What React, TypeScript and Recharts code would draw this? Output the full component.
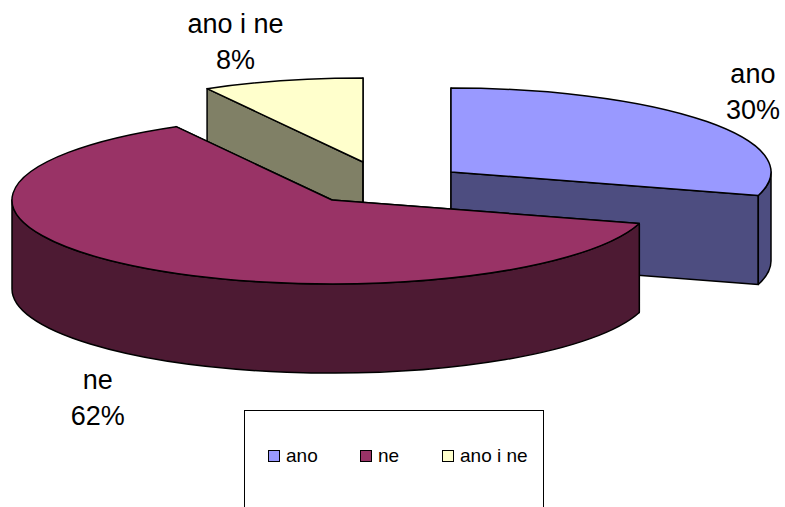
import { PieChart, Pie, Cell, Legend } from "recharts";

const categories = ["ano", "ne", "ano i ne"];
const values = [29.5, 62.4, 8.1];
const topColors = ["#9999FF", "#993366", "#FFFFCC"];
const wallColors = ["#4D4D80", "#4D1A33", "#808066"];

// pie is drawn clockwise from the yellow slice, so the maroon one lands on top
const drawOrder = [2, 0, 1];
const explode = [
  { dx: 119, dy: -28 },
  { dx: 0, dy: 0 },
  { dx: 31, dy: -38 },
];
const labelNudge = [
  { dx: 46, dy: -39 },
  { dx: -35, dy: 123 },
  { dx: -47, dy: -48 },
];

const FONT = "'Liberation Sans', Arial, sans-serif";
const SQUASH = 84 / 320;
const DEPTH = 89;
const RAD = Math.PI / 180;

const tableData = drawOrder.map((i) => ({ name: categories[i], value: values[i] }));
const firstAngle = 90 + (values[2] / 100) * 360;

function SliceShape(props: any) {
  const { cx, cy, outerRadius, startAngle, endAngle, name } = props;
  const i = categories.indexOf(name);
  const rx = outerRadius;
  const ry = outerRadius * SQUASH;
  const ox = cx + explode[i].dx;
  const oy = cy + explode[i].dy;
  const pt = (a: number) => [ox + rx * Math.cos(a * RAD), oy - ry * Math.sin(a * RAD)];
  const [sx, sy] = pt(startAngle);
  const [ex, ey] = pt(endAngle);
  const large = startAngle - endAngle > 180 ? 1 : 0;
  const top = `M${ox},${oy} L${sx},${sy} A${rx},${ry} 0 ${large} 1 ${ex},${ey} Z`;
  const radial = (x: number, y: number) =>
    `M${ox},${oy} L${x},${y} L${x},${y + DEPTH} L${ox},${oy + DEPTH} Z`;

  // outer wall only where the rim faces the viewer (lower half of the ellipse)
  const walls: string[] = [];
  for (const [lo, hi] of [[-180, 0], [-540, -360]]) {
    const a1 = Math.min(startAngle, hi);
    const a2 = Math.max(endAngle, lo);
    if (a1 > a2) {
      const [x1, y1] = pt(a1);
      const [x2, y2] = pt(a2);
      const big = a1 - a2 > 180 ? 1 : 0;
      walls.push(
        `M${x1},${y1} A${rx},${ry} 0 ${big} 1 ${x2},${y2} L${x2},${y2 + DEPTH} A${rx},${ry} 0 ${big} 0 ${x1},${y1 + DEPTH} Z`
      );
    }
  }

  const line = { stroke: "#000", strokeWidth: 1.5, strokeLinejoin: "round" as const };
  return (
    <g>
      <path d={radial(sx, sy)} fill={wallColors[i]} {...line} />
      <path d={radial(ex, ey)} fill={wallColors[i]} {...line} />
      {walls.map((d) => (
        <path key={d} d={d} fill={wallColors[i]} {...line} />
      ))}
      <path d={top} fill={topColors[i]} {...line} />
    </g>
  );
}

function renderLabel(props: any) {
  const { cx, cy, outerRadius, midAngle, name, percent } = props;
  const i = categories.indexOf(name);
  const x = cx + explode[i].dx + outerRadius * Math.cos(midAngle * RAD) + labelNudge[i].dx;
  const y = cy + explode[i].dy - outerRadius * SQUASH * Math.sin(midAngle * RAD) + labelNudge[i].dy;
  return (
    <text key={name} x={x} y={y} textAnchor="middle" fontFamily={FONT} fontSize={27} fill="#000">
      <tspan x={x}>{name}</tspan>
      <tspan x={x} dy={36}>{`${Math.round(percent * 100 + 0.001)}%`}</tspan>
    </text>
  );
}

function LegendBox() {
  const itemLeft = [23, 115, 197];
  return (
    <div
      style={{
        position: "relative",
        width: 298,
        height: 130,
        border: "1px solid #000",
        boxSizing: "content-box",
        fontFamily: FONT,
        fontSize: 19,
        color: "#000",
        background: "#fff",
      }}
    >
      {categories.map((name, i) => (
        <div key={name} style={{ position: "absolute", left: itemLeft[i], top: 33, whiteSpace: "nowrap", lineHeight: "24px" }}>
          <span
            style={{
              display: "inline-block",
              width: 10,
              height: 10,
              border: "1.5px solid #000",
              background: topColors[i],
              marginRight: 6,
            }}
          />
          {name}
        </div>
      ))}
    </div>
  );
}

export default function App() {
  return (
    <div style={{ position: "absolute", left: 0, top: 0, width: 785, height: 507, overflow: "hidden", background: "#fff" }}>
      <PieChart width={785} height={507} margin={{ top: 0, right: 0, bottom: 0, left: 0 }}>
        <Pie
          data={tableData}
          dataKey="value"
          nameKey="name"
          cx={332}
          cy={200}
          outerRadius={320}
          startAngle={firstAngle}
          endAngle={firstAngle - 360}
          paddingAngle={0}
          shape={SliceShape}
          label={renderLabel}
          labelLine={false}
          isAnimationActive={false}
        >
          {tableData.map((d) => (
            <Cell key={d.name} fill={topColors[categories.indexOf(d.name)]} />
          ))}
        </Pie>
        <Legend
          content={<LegendBox />}
          wrapperStyle={{ position: "absolute", left: 244, top: 410, width: 300, bottom: "auto" }}
        />
      </PieChart>
    </div>
  );
}
